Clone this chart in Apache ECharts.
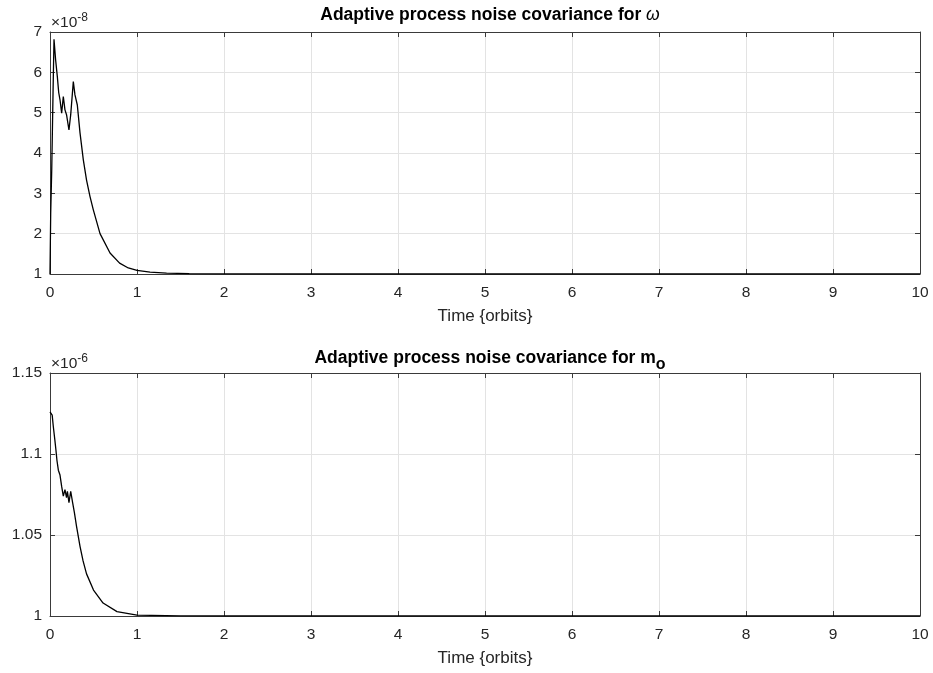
<!DOCTYPE html>
<html>
<head>
<meta charset="utf-8">
<script src="https://cdn.jsdelivr.net/npm/echarts@6/dist/echarts.min.js"></script>
<style>html,body{margin:0;padding:0;background:#fff;}#c{width:933px;height:673px;}</style>
</head>
<body>
<div id="c"></div>
<script>
// Time in orbits, values in displayed units (x10^-8 for omega, x10^-6 for m_o)
var omegaTime = [0,0.008,0.02,0.035,0.046,0.065,0.084,0.1,0.115,0.134,0.153,0.172,0.19,0.218,0.238,0.268,0.287,0.314,0.345,0.383,0.42,0.46,0.498,0.575,0.69,0.8,0.9,1.0,1.15,1.34,1.6,2,3,10];
var omegaQ    = [1,2.5,3.6,5.5,6.82,6.3,5.9,5.5,5.32,4.99,5.4,5.07,4.95,4.57,4.95,5.77,5.44,5.19,4.5,3.83,3.33,2.92,2.59,2.0,1.52,1.27,1.15,1.09,1.045,1.02,1.007,1.002,1.0,1.0];
var moTime = [0,0.015,0.025,0.038,0.055,0.069,0.08,0.096,0.105,0.115,0.134,0.153,0.172,0.19,0.2,0.218,0.238,0.26,0.28,0.306,0.345,0.38,0.42,0.5,0.61,0.77,1.0,1.5,2,10];
var moQ    = [1.126,1.127,1.124,1.117,1.109,1.102,1.096,1.09,1.089,1.087,1.080,1.074,1.078,1.073,1.077,1.070,1.077,1.070,1.064,1.055,1.043,1.034,1.026,1.016,1.008,1.0027,1.0006,1.0001,1.0,1.0];
var xTicks = [0,1,2,3,4,5,6,7,8,9,10];
var omegaExp = '-8';
var moExp = '-6';
var titleOmega = 'Adaptive process noise covariance for ';
var titleMo = 'Adaptive process noise covariance for m';
var xLabel = 'Time {orbits}';

function pairs(t, v){ return t.map(function(x,i){ return [x, v[i]]; }); }

var FONT = '"Liberation Sans", Arial, Helvetica, sans-serif';
var AX = '#3a3a3a', TXT = '#262626', GRID = '#e3e3e3';

function xAx(gi, bottom){
  return {
    type:'value', gridIndex:gi, min:xTicks[0], max:xTicks[xTicks.length-1], interval:1,
    position: bottom ? 'bottom' : 'top',
    name: bottom ? xLabel : '', nameLocation:'middle', nameGap:34,
    nameTextStyle:{fontFamily:FONT, fontSize:17, color:TXT},
    axisLine:{show:true, onZero:false, lineStyle:{color:AX, width:1}},
    axisTick:{show:true, inside:true, length:5, lineStyle:{color:AX}},
    axisLabel:{show:bottom, margin:11, fontFamily:FONT, fontSize:15.5, color:TXT},
    splitLine:{show:bottom, lineStyle:{color:GRID, width:1}}
  };
}
function yAx(gi, left, min, max, iv){
  return {
    type:'value', gridIndex:gi, min:min, max:max, interval:iv,
    position: left ? 'left' : 'right',
    axisLine:{show:true, onZero:false, lineStyle:{color:AX, width:1}},
    axisTick:{show:true, inside:true, length:5, lineStyle:{color:AX}},
    axisLabel:{show:left, margin:8, fontFamily:FONT, fontSize:15.5, color:TXT},
    splitLine:{show:left, lineStyle:{color:GRID, width:1}}
  };
}

var chart = echarts.init(document.getElementById('c'), null, {renderer:'canvas'});
chart.setOption({
  animation:false,
  backgroundColor:'#fff',
  title:[
    {text: titleOmega + '{w|ω}', left:485, top:1, textAlign:'center',
     textStyle:{fontFamily:FONT, fontSize:17.5, fontWeight:'bold', color:'#000',
       rich:{w:{fontFamily:FONT, fontSize:17.5, fontStyle:'italic', fontWeight:'normal', color:'#000'}}}},
    {text: titleMo + '{s|o}', left:485, top:339, textAlign:'center',
     textStyle:{fontFamily:FONT, fontSize:17.5, fontWeight:'bold', color:'#000',
       rich:{s:{fontFamily:FONT, fontSize:16, fontWeight:'bold', color:'#000', padding:[13,0,0,0]}}}}
  ],
  graphic:[
    {type:'text', left:51, top:12, style:{text:'×10{e|' + omegaExp + '}', fontFamily:FONT, fontSize:15.5, fill:TXT,
      rich:{e:{fontFamily:FONT, fontSize:12, fill:TXT, padding:[0,0,10,0]}}}},
    {type:'text', left:51, top:353, style:{text:'×10{e|' + moExp + '}', fontFamily:FONT, fontSize:15.5, fill:TXT,
      rich:{e:{fontFamily:FONT, fontSize:12, fill:TXT, padding:[0,0,10,0]}}}}
  ],
  grid:[
    {left:50, top:32, width:870, height:242},
    {left:50, top:373, width:870, height:243}
  ],
  xAxis:[xAx(0,true), xAx(0,false), xAx(1,true), xAx(1,false)],
  yAxis:[yAx(0,true,1,7,1), yAx(0,false,1,7,1), yAx(1,true,1,1.15,0.05), yAx(1,false,1,1.15,0.05)],
  series:[
    {type:'line', xAxisIndex:0, yAxisIndex:0, data:pairs(omegaTime, omegaQ), showSymbol:false,
     lineStyle:{color:'#000', width:1.3}, z:5},
    {type:'line', xAxisIndex:2, yAxisIndex:2, data:pairs(moTime, moQ), showSymbol:false,
     lineStyle:{color:'#000', width:1.3}, z:5}
  ]
});
</script>
</body>
</html>
